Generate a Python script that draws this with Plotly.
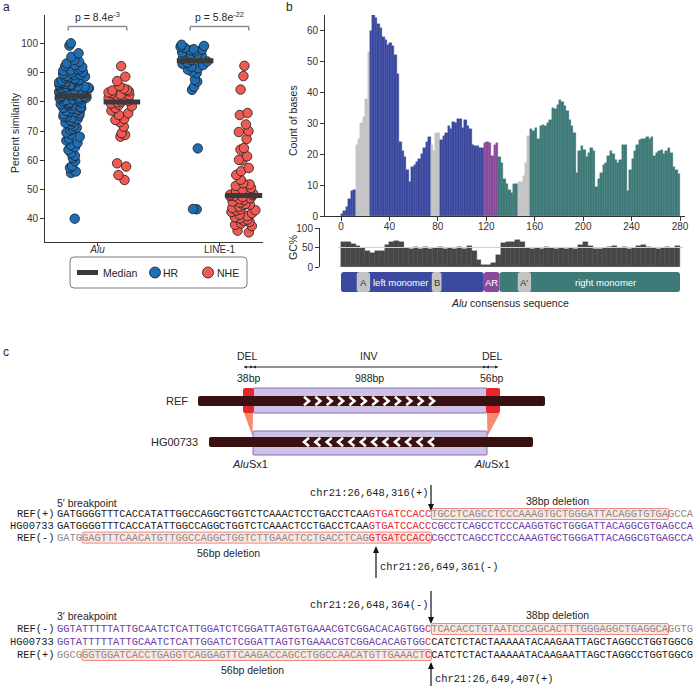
import numpy as np
import plotly.graph_objects as go

W, H = 700, 686
def fx(x): return x / W
def fy(y): return 1 - y / H

FONT = "Liberation Sans, Arial, sans-serif"
MONO = "Liberation Mono, Courier New, monospace"
INK = "#262626"

# ---------------- panel a data ----------------
categories = ["<i>Alu</i>", "LINE-1"]
alu_hr = [100.0, 99.2, 96.6, 95.4, 94.3, 93.7, 93.1, 92.6, 92.2, 91.9, 91.3, 91.0, 90.8, 90.6, 90.2,
          89.9, 89.5, 89.3, 89.1, 88.8, 88.6, 88.4, 88.1, 87.9, 87.6, 87.4, 87.2, 87.0, 86.9, 86.7,
          86.5, 86.2, 86.0, 85.9, 85.7, 85.5, 85.3, 85.1, 85.0, 84.9, 84.8, 84.6, 84.4, 84.3, 84.1,
          83.9, 83.8, 83.6, 83.4, 83.3, 83.1, 82.9, 82.7, 82.6, 82.4, 82.2, 82.1,
          81.9, 81.7, 81.5, 81.4, 81.2, 80.9, 80.8, 80.6, 80.3, 80.1, 79.8, 79.6, 79.4, 79.2, 78.9,
          78.7, 78.3, 78.0, 77.9, 77.7, 77.3, 76.9, 76.7, 76.5, 76.1, 75.8, 75.3, 75.0, 74.9, 74.6,
          74.1, 73.7, 73.2, 72.8, 72.3, 71.7, 71.2, 70.7, 70.3, 69.5, 68.9, 68.1, 67.4, 66.8, 66.0,
          65.2, 64.5, 63.6, 62.5, 61.6, 60.8, 59.8, 58.1, 57.5, 56.2, 55.7, 40.1]
alu_nhe = [92.2, 88.6, 87.1, 85.4, 84.5, 84.1, 83.9, 83.6, 83.2, 82.9, 82.5, 82.3, 82.0, 81.6, 81.3,
           81.0, 80.8, 80.4, 80.1, 79.8, 79.4, 79.0, 78.5, 77.9, 77.0, 76.1, 75.5, 74.2, 73.8, 73.1,
           71.5, 69.3, 68.7, 68.1, 59.0, 57.9, 55.0, 53.3]
line1_hr = [99.5, 99.1, 98.8, 98.4, 98.0, 97.9, 97.6, 97.2, 96.9, 96.4, 96.0, 95.8, 95.6, 95.1, 94.7,
            94.3, 93.8, 93.4, 93.0, 92.6, 92.0, 91.5, 91.0, 90.3, 89.8, 87.5, 86.9, 85.2, 84.1, 64.1,
            43.3, 43.4]
line1_nhe = [92.3, 88.8, 84.2, 76.2, 75.5, 72.3, 70.0, 69.7, 67.3, 64.2, 63.7, 61.4, 60.2, 60.0, 57.4,
             56.3, 55.0, 53.4, 52.2, 51.8, 51.3, 50.6, 50.1, 49.7, 49.5, 49.3, 48.9, 48.6, 48.3, 48.1,
             47.9, 47.8, 47.5, 47.1, 46.8, 46.4, 46.0, 45.6, 45.1, 44.9, 44.7, 44.2, 43.8, 43.3, 43.0,
             42.9, 42.4, 42.0, 41.5, 41.0, 40.6, 40.2, 39.8, 39.4, 39.0, 38.5, 38.0, 37.6, 36.0, 35.4]
similarity_ticks = [40, 50, 60, 70, 80, 90, 100]
p_values = ["p = 8.4e<sup>-3</sup>", "p = 5.8e<sup>-22</sup>"]
legend_labels = ["Median", "HR", "NHE"]
HR_COLOR = "#1f6db3"
NHE_COLOR = "#ef5a52"
MED_COLOR = "#3a3a3a"

# ---------------- panel b data ----------------
base_counts = [0.5, 1.5, 3, 5.5, 8, 8.5, 23, 25, 30, 32, 38, 53, 60, 65, 64, 62, 61, 58, 57, 55.5,
               56, 55, 52, 46, 24, 21, 19, 15, 11, 16, 16.5, 17.5, 18.5, 20, 22, 24, 25.5, 23, 21, 27,
               27, 24.5, 26, 27, 29, 28, 30.5, 30, 31.5, 31.5, 28.5, 31, 29, 28, 23, 22.5, 22.5, 22, 22, 23.5,
               24, 23.5, 19.5, 23, 23.5, 19, 17, 12, 10.5, 8.5, 7.5, 10.5, 10.5, 11, 11, 13, 17, 26, 28, 27.5,
               28.5, 25, 29, 29.5, 29, 30, 31, 35, 34.5, 36, 37.5, 37, 35.5, 34, 31, 29, 27, 14, 21, 22.5,
               21.5, 19, 20.5, 22, 21, 9.5, 12, 14, 16.5, 17, 19.5, 21, 20, 18, 17, 18, 23, 23, 8, 15,
               18.5, 21, 23, 24.5, 25, 25, 25.5, 25, 25.5, 19.5, 20.5, 21, 21.5, 20, 21, 22, 20.5, 16, 15, 13.5]
gc_percent = [65, 63, 60, 53, 48, 40, 37, 40, 42, 56, 65, 67, 63, 48, 46, 51, 46, 51, 46, 48,
              51, 46, 48, 46, 51, 46, 53, 42, 18, 6, 5, 9, 31, 62, 63, 63, 69, 63, 48, 46,
              48, 46, 51, 48, 46, 48, 46, 48, 46, 56, 65, 53, 46, 46, 48, 51, 54, 48, 51, 46,
              48, 54, 56, 51, 48, 46, 48, 51, 48, 53]
COUNT_BIN, GC_BIN = 2, 4
count_ticks = [0, 10, 20, 30, 40, 50, 60]
pos_ticks = [0, 40, 80, 120, 160, 200, 240, 280]
gc_ticks = [0, 50, 100]
region_labels = ["", "A", "left monomer", "B", "", "AR", "", "A′", "right monomer"]
region_starts = [0, 13, 24, 75, 83, 118, 131, 146, 157]
region_ends = [13, 24, 75, 83, 118, 131, 146, 157, 280]
region_kinds = ["L", "box", "L", "box", "L", "AR", "R", "box", "R"]
KIND_COLOR = {"L": "#3b4a9f", "box": "#c3c3c5", "AR": "#8a4a9b", "R": "#3d7a78"}
KIND_TEXT = {"L": "white", "box": "#333333", "AR": "white", "R": "white"}

# ---------------- panel c data ----------------
sv_labels = ["DEL", "INV", "DEL"]
sv_sizes = ["38bp", "988bp", "56bp"]
haplotypes = ["REF", "HG00733"]
flank_element = "<i>Alu</i>Sx1"
SEQ_COLORS = {"k": "#1a1a1a", "r": "#e3262b", "g": "#8c8888", "p": "#6a3ca6"}
bp5_rows = [
    ("REF(+)", [("GATGGGGTTTCACCATATTGGCCAGGCTGGTCTCAAACTCCTGACCTCAA", "k", 0), ("GTGATCCACC", "r", 0),
                ("TGCCTCAGCCTCCCAAAGTGCTGGGATTACAGGTGTGA", "g", 1), ("GCCA", "g", 0)]),
    ("HG00733", [("GATGGGGTTTCACCATATTGGCCAGGCTGGTCTCAAACTCCTGACCTCAA", "k", 0), ("GTGATCCACC", "r", 0),
                 ("CGCCTCAGCCTCCCAAGGTGCTGGGATTACAGGCGTGAGCCA", "p", 0)]),
    ("REF(-)", [("GATG", "g", 0), ("GAGTTTCAACATGTTGGCCAGGCTGGTCTTGAACTCCTGACCTCAG", "g", 1),
                ("GTGATCCACC", "r", 1), ("CGCCTCAGCCTCCCAAAGTGCTGGGATTACAGGCGTGAGCCA", "p", 0)]),
]
bp3_rows = [
    ("REF(-)", [("GGTATTTTTATTGCAATCTCATTGGATCTCGGATTAGTGTGAAACGTCGGACACAGTGG", "p", 0), ("C", "r", 0),
                ("TCACACCTGTAATCCCAGCACTTTGGGAGGCTGAGGCA", "g", 1), ("GGTG", "g", 0)]),
    ("HG00733", [("GGTATTTTTATTGCAATCTCATTGGATCTCGGATTAGTGTGAAACGTCGGACACAGTGG", "p", 0), ("C", "r", 0),
                 ("CATCTCTACTAAAAATACAAGAATTAGCTAGGCCTGGTGGCG", "k", 0)]),
    ("REF(+)", [("GGCG", "g", 0), ("GGTGGATCACCTGAGGTCAGGAGTTCAAGACCAGCCTGGCCAACATGTTGAAACT", "g", 1),
                ("C", "r", 1), ("CATCTCTACTAAAAATACAAGAATTAGCTAGGCCTGGTGGCG", "k", 0)]),
]
bp_titles = ["5′ breakpoint", "3′ breakpoint"]
bp_coords_top = ["chr21:26,648,316(+)", "chr21:26,648,364(-)"]
bp_coords_bottom = ["chr21:26,649,361(-)", "chr21:26,649,407(+)"]
del_labels = ["38bp deletion", "56bp deletion"]

fig = go.Figure()

# ================= panel a =================
groups = [(alu_hr, 0, -1, HR_COLOR), (alu_nhe, 0, 1, NHE_COLOR),
          (line1_hr, 1, -1, HR_COLOR), (line1_nhe, 1, 1, NHE_COLOR)]
OFF = 0.2
for vals, ci, side, col in groups:
    pos = ci + side * OFF
    fig.add_trace(go.Box(y=vals, x0=pos, width=0.26, boxpoints="all", jitter=1, pointpos=0,
                         fillcolor="rgba(0,0,0,0)", line=dict(width=0, color="rgba(0,0,0,0)"),
                         whiskerwidth=0,
                         marker=dict(color=col, size=9.5, opacity=1, line=dict(color="#1e1e1e", width=0.8)),
                         showlegend=False, hoverinfo="skip", xaxis="x", yaxis="y"))
for vals, ci, side, col in groups:
    pos = ci + side * OFF
    m = float(np.median(vals))
    fig.add_trace(go.Scatter(x=[pos - 0.15, pos + 0.15], y=[m, m], mode="lines",
                             line=dict(color=MED_COLOR, width=5), showlegend=False,
                             hoverinfo="skip", xaxis="x", yaxis="y"))

# ================= panel b =================
centers = np.arange(len(base_counts)) * COUNT_BIN + COUNT_BIN / 2
def kind_at(b):
    for s, e, k in zip(region_starts, region_ends, region_kinds):
        if s <= b < e:
            return k
    return region_kinds[-1]
bar_cols = [KIND_COLOR[kind_at(c)] for c in centers]
fig.add_trace(go.Bar(x=centers, y=base_counts, width=COUNT_BIN,
                     marker=dict(color=bar_cols, line=dict(color=bar_cols, width=0.4)),
                     showlegend=False, hoverinfo="skip", xaxis="x2", yaxis="y2"))
gc_centers = np.arange(len(gc_percent)) * GC_BIN + GC_BIN / 2
fig.add_trace(go.Bar(x=gc_centers, y=gc_percent, width=GC_BIN,
                     marker=dict(color="#474747", line=dict(color="#474747", width=0.4)),
                     showlegend=False, hoverinfo="skip", xaxis="x3", yaxis="y3"))

axis_common = dict(showgrid=False, zeroline=False, showline=True, linecolor="#333", linewidth=1,
                   ticks="outside", tickwidth=1, tickcolor="#333",
                   tickfont=dict(family=FONT, size=10, color="#333"), fixedrange=True)

A_X0, A_X1, A_C0, A_PPU = 45, 263, 97.5, 122.0
A_Y0, A_Y1 = 15, 241.7
A_V100, A_PPV = 43.3, 2.928
B_X0, B_X1, B_Z, B_PPU = 325, 685, 341, 1.2107
B_Y0, B_Y1, B_PPV = 15, 216, 3.09
G_X0, G_Y0, G_Y1 = 320, 228, 267

fig.update_layout(
    xaxis=dict(domain=[fx(A_X0), fx(A_X1)], range=[(A_X0 - A_C0) / A_PPU, (A_X1 - A_C0) / A_PPU],
               type="linear", tickvals=[0, 1], ticktext=categories, ticklen=3, ticklabelstandoff=-5,
               anchor="y", **axis_common),
    yaxis=dict(domain=[fy(A_Y1), fy(A_Y0)],
               range=[100 - (A_Y1 - A_V100) / A_PPV, 100 + (A_V100 - A_Y0) / A_PPV],
               tickvals=similarity_ticks, ticklen=4, anchor="x", **axis_common),
    xaxis2=dict(domain=[fx(B_X0), fx(B_X1)], range=[(B_X0 - B_Z) / B_PPU, (B_X1 - B_Z) / B_PPU],
                tickvals=pos_ticks, ticklen=4, ticklabelstandoff=-3, anchor="y2", **axis_common),
    yaxis2=dict(domain=[fy(B_Y1), fy(B_Y0)], range=[0, (B_Y1 - B_Y0) / B_PPV],
                tickvals=count_ticks, ticklen=4, anchor="x2", **axis_common),
    xaxis3=dict(domain=[fx(G_X0), fx(B_X1)], range=[(G_X0 - B_Z) / B_PPU, (B_X1 - B_Z) / B_PPU],
                visible=False, anchor="y3", fixedrange=True),
    yaxis3=dict(domain=[fy(G_Y1), fy(G_Y0)], range=[0, 100], tickvals=gc_ticks, ticklen=4,
                anchor="x3", **axis_common),
)

shapes = []
annos = []
def txt(x, y, s, size=10.5, color=INK, xa="center", ya="middle", family=FONT, angle=0, **kw):
    annos.append(dict(x=fx(x), y=fy(y), xref="paper", yref="paper", text=s, showarrow=False,
                      xanchor=xa, yanchor=ya, textangle=angle, borderpad=0, borderwidth=0,
                      font=dict(family=family, size=size, color=color), **kw))

def pline(x0, y0, x1, y1, color=INK, width=1, layer="above"):
    shapes.append(dict(type="line", xref="paper", yref="paper", x0=fx(x0), y0=fy(y0), x1=fx(x1),
                       y1=fy(y1), line=dict(color=color, width=width), layer=layer))

def poly(pts, fill=None, color=None, width=0, closed=True, layer="above"):
    d = "M " + " L ".join(f"{fx(x):.5f},{fy(y):.5f}" for x, y in pts) + (" Z" if closed else "")
    shapes.append(dict(type="path", xref="paper", yref="paper", path=d,
                       fillcolor=fill if fill else "rgba(0,0,0,0)",
                       line=dict(color=color if color else "rgba(0,0,0,0)", width=width), layer=layer))

def rrect(x0, y0, x1, y1, r, fill, color=None, width=0):
    X, Y = fx, fy
    d = (f"M {X(x0 + r)},{Y(y0)} L {X(x1 - r)},{Y(y0)} Q {X(x1)},{Y(y0)} {X(x1)},{Y(y0 + r)} "
         f"L {X(x1)},{Y(y1 - r)} Q {X(x1)},{Y(y1)} {X(x1 - r)},{Y(y1)} L {X(x0 + r)},{Y(y1)} "
         f"Q {X(x0)},{Y(y1)} {X(x0)},{Y(y1 - r)} L {X(x0)},{Y(y0 + r)} Q {X(x0)},{Y(y0)} {X(x0 + r)},{Y(y0)} Z")
    shapes.append(dict(type="path", xref="paper", yref="paper", path=d, fillcolor=fill,
                       line=dict(color=color if color else fill, width=width), layer="above"))

def circle(cx, cy, r, fill, color, width):
    shapes.append(dict(type="circle", xref="paper", yref="paper", x0=fx(cx - r), x1=fx(cx + r),
                       y0=fy(cy + r), y1=fy(cy - r), fillcolor=fill, line=dict(color=color, width=width),
                       layer="above"))

# ---- panel a decorations ----
txt(3, 0, "a", size=12, xa="left", ya="top")
txt(15, 133, "Percent similarity", size=10.5, angle=-90)
for ci, p in enumerate(p_values):
    x_l = ci - 0.24
    x_r = ci + 0.24
    yb = 100 + (A_V100 - 26.5) / A_PPV
    yl = 100 + (A_V100 - 30.5) / A_PPV
    for seg in [(x_l, yl, x_l, yb), (x_l, yb, x_r, yb), (x_r, yb, x_r, yl)]:
        shapes.append(dict(type="line", xref="x", yref="y", x0=seg[0], y0=seg[1], x1=seg[2], y1=seg[3],
                           line=dict(color="#8a8a8a", width=1.5), layer="above"))
    annos.append(dict(x=ci, y=fy(17), xref="x", yref="paper", text=p, showarrow=False,
                      xanchor="center", yanchor="middle", font=dict(family=FONT, size=10.5, color=INK)))
# legend box (drawn)
LEG_Y = 272.5
rrect(70, 257, 247, 288, 4, "white", "#7a7a7a", 1)
pline(77, LEG_Y, 98, LEG_Y, color=MED_COLOR, width=5)
txt(103, LEG_Y, legend_labels[0], size=10.5, xa="left")
circle(155, LEG_Y, 5.5, HR_COLOR, "#1e1e1e", 0.8)
txt(163, LEG_Y, legend_labels[1], size=10.5, xa="left")
circle(208, LEG_Y, 5.5, NHE_COLOR, "#1e1e1e", 0.8)
txt(217, LEG_Y, legend_labels[2], size=10.5, xa="left")

# ---- panel b decorations ----
txt(286, 0, "b", size=12, xa="left", ya="top")
txt(293, 121, "Count of bases", size=10.5, angle=-90)
txt(293, 248, "GC%", size=10.5, angle=-90)
shapes.append(dict(type="line", xref="x3", yref="y3", x0=-2.5, x1=282.5, y0=50, y1=50,
                   line=dict(color="#d0d0d0", width=1), layer="above"))
BAR_T, BAR_B = 272, 292
def rpath(b0, b1, rx, y0, y1, ry_px):
    ry = ry_px / H
    Y0, Y1 = fy(y0), fy(y1)
    return (f"M {b0 + rx},{Y0} L {b1 - rx},{Y0} Q {b1},{Y0} {b1},{Y0 - ry} L {b1},{Y1 + ry} "
            f"Q {b1},{Y1} {b1 - rx},{Y1} L {b0 + rx},{Y1} Q {b0},{Y1} {b0},{Y1 + ry} "
            f"L {b0},{Y0 - ry} Q {b0},{Y0} {b0 + rx},{Y0} Z")
rx = 2.0
for kind in ["L", "AR", "R"]:
    s = min(st for st, k in zip(region_starts, region_kinds) if k == kind)
    e = max(en for en, k in zip(region_ends, region_kinds) if k == kind)
    shapes.append(dict(type="path", xref="x2", yref="paper", path=rpath(s, e, rx, BAR_T, BAR_B, 2.5),
                       fillcolor=KIND_COLOR[kind], line=dict(width=0), layer="above"))
for s, e, k in zip(region_starts, region_ends, region_kinds):
    if k == "box":
        shapes.append(dict(type="path", xref="x2", yref="paper", path=rpath(s, e, rx, BAR_T, BAR_B, 2.5),
                           fillcolor=KIND_COLOR[k], line=dict(width=0), layer="above"))
for s, e, k, lab in zip(region_starts, region_ends, region_kinds, region_labels):
    if lab:
        annos.append(dict(x=(s + e) / 2, y=fy((BAR_T + BAR_B) / 2), xref="x2", yref="paper", text=lab,
                          showarrow=False, xanchor="center", yanchor="middle",
                          font=dict(family=FONT, size=9.5, color=KIND_TEXT[k])))
txt(510, 303, "<i>Alu</i> consensus sequence", size=10.5)

# ---- panel c schematic ----
txt(3, 352, "c", size=12, xa="left")
SV_X = [(244, 253), (253, 486), (486, 498)]
for (a, b), lab, sz in zip(SV_X, sv_labels, sv_sizes):
    txt((a + b) / 2 - (1 if lab == "DEL" and a < 300 else 0), 356, lab, size=10.5)
    txt((a + b) / 2, 377.5, sz, size=10.5)
    pline(a, 367, b, 367, color=INK, width=1)
    poly([(a, 367), (a + 3, 365.4), (a + 3, 368.6)], fill=INK)
    poly([(b, 367), (b - 3, 365.4), (b - 3, 368.6)], fill=INK)
DARK = "#3a1111"
PURP_F, PURP_L = "#cdc2e3", "#8a6bbf"
RED = "#e5262b"
SALMON = "#f48a6e"
rrect(253, 388, 487, 413, 1, PURP_F, PURP_L, 1)
rrect(243, 388, 254, 413, 2, RED)
rrect(486, 388, 500, 413, 2, RED)
poly([(244, 413), (253, 413), (252.5, 436)], fill=SALMON)
poly([(487, 413), (500, 413), (487.5, 436)], fill=SALMON)
rrect(198, 396, 545, 406, 2, DARK)
rrect(253, 431, 487, 455, 1, PURP_F, PURP_L, 1)
rrect(209, 437, 533, 447, 2, DARK)
chev_x = np.linspace(304, 429, 12)
for cx in chev_x:
    poly([(cx, 396.8), (cx + 5, 401), (cx, 405.2)], color="white", width=2.6, closed=False)
    poly([(cx + 5, 437.8), (cx, 442), (cx + 5, 446.2)], color="white", width=2.6, closed=False)
txt(188, 401, haplotypes[0], size=11, xa="right")
txt(198, 442, haplotypes[1], size=11, xa="right")
txt(250, 464, flank_element, size=11)
txt(492, 464, flank_element, size=11)

# ---- sequences ----
SEQ_X0, SEQ_FS, LAB_X = 57, 10.4, 54
CW = SEQ_FS * 0.6
def seq_block(rows, row_y, title, title_y, top_coord, top_y, bottom_coord, bottom_x, bottom_y,
              top_arrow, bottom_arrow, del_top, del_top_y, del_bot_x, del_bot, del_bot_y):
    for (label, segs), y in zip(rows, row_y):
        pos = 0
        box = None
        html = ""
        for s, c, boxed in segs:
            if boxed:
                box = (pos if box is None else box[0], pos + len(s))
            html += f'<span style="color:{SEQ_COLORS[c]}">{s}</span>'
            pos += len(s)
        if box:
            rrect(SEQ_X0 + box[0] * CW, y - 5.5, SEQ_X0 + box[1] * CW, y + 5.5, 1.5, "#fbe7e1", "#f08782", 1)
        txt(LAB_X, y, label, size=SEQ_FS, family=MONO, xa="right", color="#1a1a1a")
        txt(SEQ_X0, y, html, size=SEQ_FS, family=MONO, xa="left")
    txt(SEQ_X0, title_y, title, size=10.5, xa="left")
    txt(428, top_y, top_coord, size=SEQ_FS, family=MONO, xa="right", color="#1a1a1a")
    ax, ay0, ay1 = top_arrow
    pline(ax, ay0, ax, ay1 - 6, color="#111", width=1.2)
    poly([(ax - 3, ay1 - 7), (ax + 3, ay1 - 7), (ax, ay1)], fill="#111")
    bx, by0, by1 = bottom_arrow
    pline(bx, by1, bx, by0 + 6, color="#111", width=1.2)
    poly([(bx - 3, by0 + 7), (bx + 3, by0 + 7), (bx, by0)], fill="#111")
    txt(bottom_x, bottom_y, bottom_coord, size=SEQ_FS, family=MONO, xa="left", color="#1a1a1a")
    txt(557, del_top_y, del_top, size=10.5)
    txt(del_bot_x, del_bot_y, del_bot, size=10.5)

seq_block(bp5_rows, [514, 525.8, 537.6], bp_titles[0], 503, bp_coords_top[0], 493,
          bp_coords_bottom[0], 380, 567, (431, 485, 511), (376, 546, 578),
          del_labels[0], 501, 228, del_labels[1], 553)
seq_block(bp3_rows, [629, 642, 655], bp_titles[1], 616, bp_coords_top[1], 605,
          bp_coords_bottom[1], 435, 679, (431, 591, 624), (431, 662, 686),
          del_labels[0], 615, 252, del_labels[1], 670)

fig.update_layout(
    width=W, height=H, autosize=False, margin=dict(l=0, r=0, t=0, b=0, autoexpand=False),
    paper_bgcolor="white", plot_bgcolor="white", barmode="overlay", bargap=0, showlegend=False,
    font=dict(family=FONT, size=10.5, color=INK),
    shapes=shapes, annotations=annos,
)
fig.write_html("out.html", config={"displayModeBar": False},
               post_script="document.body.style.margin='0';document.body.style.overflow='hidden';")
